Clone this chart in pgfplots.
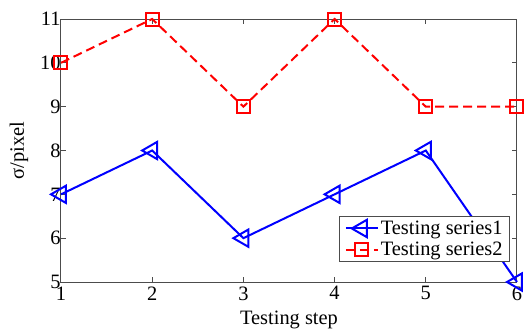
\documentclass[border=0pt]{standalone}
\usepackage{pgfplots}
\pgfplotsset{compat=1.18}
\usepackage{fontspec}
\setmainfont{Liberation Serif}
\begin{document}
\begin{tikzpicture}
\begin{axis}[
  at={(0,0)}, anchor=south west,
  scale only axis,
  width=456bp, height=263bp,
  xmin=1, xmax=6, ymin=5, ymax=11,
  xtick={1,...,6}, ytick={5,...,11},
  tick align=inside,
  major tick length=5bp,
  axis line style={black!70, line width=1bp},
  tick style={black!70, line width=1bp},
  clip=false,
  font=\fontsize{20.5}{22}\selectfont,
  /pgf/number format/assume math mode=true,
  xticklabel style={yshift=-1bp},
  yticklabel style={xshift=3bp},
  xlabel={Testing step},
  ylabel={σ/pixel},
  xlabel style={at={(axis description cs:0.5,-0.146)}, anchor=center},
  ylabel style={at={(axis description cs:-0.092,0.5)}, anchor=center},
  legend style={at={(axis description cs:0.9846,0.076)}, anchor=south east,
    draw=black!70, line width=1bp, fill=white,
    font=\fontsize{20.5}{22}\selectfont, inner xsep=5bp, inner ysep=1.5bp,
    nodes={inner xsep=2bp, inner ysep=3bp},
    legend cell align=left},
  legend image code/.code={
    \draw[#1] (0bp,0bp) -- (32bp,0bp);
    \draw[#1, solid] plot coordinates {(16bp,0bp)};
  },
]
\addplot[blue, line width=2bp, mark=triangle, mark size=10bp,
  mark options={rotate=90, solid, line width=2bp}]
  coordinates {(1,7) (2,8) (3,6) (4,7) (5,8) (6,5)};
\addlegendentry{Testing series1}
\addplot[red, line width=2bp, dash pattern=on 9bp off 5bp, mark=square, mark size=6.5bp,
  mark options={solid, line width=2bp}]
  coordinates {(1,10) (2,11) (3,9) (4,11) (5,9) (6,9)};
\addlegendentry{Testing series2}
\end{axis}
\pgfresetboundingbox
\path (-61bp,-51bp) rectangle (465bp,282bp);
\end{tikzpicture}
\end{document}
